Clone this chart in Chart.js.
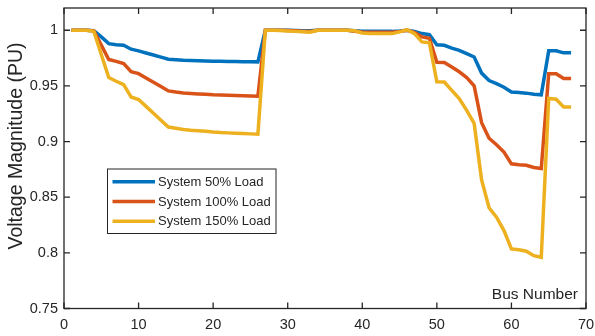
<!DOCTYPE html>
<html>
<head>
<meta charset="utf-8">
<script src="https://cdn.jsdelivr.net/npm/chart.js@4.4.1/dist/chart.umd.min.js"></script>
<style>
  html, body { margin: 0; padding: 0; background: #ffffff; }
  #wrap { width: 595px; height: 336px; }
</style>
</head>
<body>
<div id="wrap"><canvas id="c" width="595" height="336"></canvas></div>
<script>
// Bus index along the feeder
const buses = [1,2,3,4,5,6,7,8,9,10,11,12,13,14,15,16,17,18,19,20,21,22,23,24,25,26,27,28,29,30,31,32,33,34,
  35,36,37,38,39,40,41,42,43,44,45,46,47,48,49,50,51,52,53,54,55,56,57,58,59,60,61,62,63,64,65,66,67,68];

// Voltage magnitude (p.u.) per bus for each loading level
const load50 = [1.0000,1.0000,1.0000,0.9995,0.9940,0.9880,0.9870,0.9865,0.9830,0.9815,0.9796,0.9778,0.9759,0.9740,
  0.9735,0.9730,0.9728,0.9726,0.9724,0.9722,0.9721,0.9720,0.9719,0.9718,0.9717,0.9716,
  1.0000,1.0000,1.0000,1.0000,0.9998,0.9996,0.9995,1.0000,1.0000,1.0000,1.0000,1.0000,0.9996,0.9992,
  0.9990,0.9990,0.9990,0.9990,0.9994,1.0000,0.9990,0.9970,0.9960,0.9870,0.9865,0.9840,0.9820,0.9790,
  0.9760,0.9615,0.9548,0.9520,0.9488,0.9445,0.9440,0.9435,0.9425,0.9420,0.9815,0.9815,0.9797,0.9797];

const load100 = [1.0000,1.0000,1.0000,0.9995,0.9866,0.9737,0.9720,0.9700,0.9627,0.9610,0.9571,0.9533,0.9494,0.9455,
  0.9445,0.9437,0.9432,0.9428,0.9424,0.9420,0.9418,0.9416,0.9414,0.9412,0.9410,0.9407,
  1.0000,1.0000,1.0000,0.9998,0.9995,0.9992,0.9990,1.0000,0.9999,0.9999,0.9999,0.9999,0.9992,0.9985,
  0.9982,0.9982,0.9982,0.9982,0.9990,1.0000,0.9982,0.9940,0.9928,0.9713,0.9710,0.9670,0.9627,0.9575,
  0.9500,0.9170,0.9030,0.8972,0.8906,0.8800,0.8792,0.8787,0.8767,0.8757,0.9610,0.9610,0.9566,0.9566];

const load150 = [1.0000,1.0000,1.0000,0.9990,0.9782,0.9575,0.9542,0.9512,0.9400,0.9378,0.9316,0.9254,0.9192,0.9130,
  0.9120,0.9109,0.9102,0.9097,0.9093,0.9086,0.9081,0.9078,0.9075,0.9072,0.9069,0.9066,
  1.0000,1.0000,0.9997,0.9994,0.9990,0.9986,0.9982,1.0000,0.9999,0.9999,0.9999,0.9999,0.9995,0.9975,
  0.9970,0.9970,0.9970,0.9970,0.9985,1.0005,0.9970,0.9895,0.9887,0.9537,0.9535,0.9460,0.9387,0.9280,
  0.9163,0.8655,0.8405,0.8320,0.8200,0.8035,0.8027,0.8015,0.7975,0.7960,0.9387,0.9380,0.9310,0.9310];

const seriesNames = ['System 50% Load', 'System 100% Load', 'System 150% Load'];
const seriesColors = ['#0072BD', '#D95319', '#EDB120'];

const xTicks = [0, 10, 20, 30, 40, 50, 60, 70];
const yTicks = [0.75, 0.8, 0.85, 0.9, 0.95, 1];
const yTickLabels = ['0.75', '0.8', '0.85', '0.9', '0.95', '1'];

const xTitle = 'Bus Number';
const yTitle = 'Voltage Magnitude (PU)';

const AXIS_COLOR = '#262626';
const FONT = '"Liberation Sans", Arial, Helvetica, sans-serif';

function toPoints(values) {
  return buses.map((b, i) => ({ x: b, y: values[i] }));
}

const allSeries = [load50, load100, load150];
const datasets = allSeries.map((vals, i) => ({
  label: seriesNames[i],
  data: toPoints(vals),
  borderColor: seriesColors[i],
  backgroundColor: seriesColors[i],
  borderWidth: 3.5,
  pointRadius: 0,
  tension: 0,
  fill: false,
  order: 2 - i   // later series drawn on top
}));

// Box around the plot with inward tick marks on all four sides, plus axis titles
const boxPlugin = {
  id: 'box',
  afterDatasetsDraw(chart) {
    const { ctx, chartArea: a, scales: { x, y } } = chart;
    const tl = 6;
    ctx.save();
    ctx.strokeStyle = AXIS_COLOR;
    ctx.lineWidth = 1.3;
    ctx.beginPath();
    xTicks.forEach(v => {
      const px = x.getPixelForValue(v);
      ctx.moveTo(px, a.bottom); ctx.lineTo(px, a.bottom - tl);
      ctx.moveTo(px, a.top); ctx.lineTo(px, a.top + tl);
    });
    yTicks.forEach(v => {
      const py = y.getPixelForValue(v);
      ctx.moveTo(a.left, py); ctx.lineTo(a.left + tl, py);
      ctx.moveTo(a.right, py); ctx.lineTo(a.right - tl, py);
    });
    ctx.stroke();
    ctx.strokeRect(a.left, a.top, a.right - a.left, a.bottom - a.top);

    ctx.fillStyle = AXIS_COLOR;
    // x-axis label sits inside the plot, lower right
    ctx.font = '15.5px ' + FONT;
    ctx.textAlign = 'right';
    ctx.textBaseline = 'middle';
    ctx.fillText(xTitle, a.right - 8, a.bottom - 14);

    // rotated y-axis label
    ctx.translate(17, 146);
    ctx.rotate(-Math.PI / 2);
    ctx.font = '19.5px ' + FONT;
    ctx.textAlign = 'center';
    ctx.textBaseline = 'middle';
    ctx.fillText(yTitle, 0, 0);
    ctx.restore();
  }
};

// Legend box placed inside the plot area
const legendPlugin = {
  id: 'insideLegend',
  afterDatasetsDraw(chart) {
    const { ctx } = chart;
    const bx = 107.5, by = 169, bw = 168.5, bh = 64.5;
    ctx.save();
    ctx.fillStyle = '#ffffff';
    ctx.fillRect(bx, by, bw, bh);
    ctx.strokeStyle = AXIS_COLOR;
    ctx.lineWidth = 1;
    ctx.strokeRect(bx, by, bw, bh);
    const rows = [181.7, 201.5, 221.2];
    chart.data.datasets.forEach((ds, i) => {
      const ry = rows[i];
      ctx.strokeStyle = ds.borderColor;
      ctx.lineWidth = 3.5;
      ctx.beginPath();
      ctx.moveTo(112.5, ry); ctx.lineTo(155, ry);
      ctx.stroke();
      ctx.fillStyle = AXIS_COLOR;
      ctx.font = '13px ' + FONT;
      ctx.textAlign = 'left';
      ctx.textBaseline = 'middle';
      ctx.fillText(ds.label, 158, ry + 0.5);
    });
    ctx.restore();
  }
};

new Chart(document.getElementById('c'), {
  type: 'line',
  data: { datasets },
  options: {
    responsive: false,
    animation: false,
    devicePixelRatio: 1,
    layout: { padding: { top: 8, right: 9, left: 0, bottom: 0 } },
    plugins: { legend: { display: false }, tooltip: { enabled: false } },
    scales: {
      x: {
        type: 'linear',
        min: 0, max: 70,
        afterBuildTicks(s) { s.ticks = xTicks.map(v => ({ value: v })); },
        afterFit(s) { s.height = 27.5; s.paddingLeft = 0; s.paddingRight = 0; },
        grid: { display: false, drawTicks: false },
        border: { display: false },
        ticks: {
          color: AXIS_COLOR,
          font: { family: FONT, size: 14.5 },
          padding: 8,
          maxRotation: 0,
          callback: v => String(v)
        }
      },
      y: {
        type: 'linear',
        min: 0.75, max: 1.02,
        afterBuildTicks(s) { s.ticks = yTicks.map(v => ({ value: v })); },
        afterFit(s) { s.width = 64; s.paddingTop = 0; s.paddingBottom = 0; },
        grid: { display: false, drawTicks: false },
        border: { display: false },
        ticks: {
          color: AXIS_COLOR,
          font: { family: FONT, size: 14.5 },
          padding: 6,
          callback: (v) => {
            const k = yTicks.findIndex(t => Math.abs(t - v) < 1e-9);
            return k >= 0 ? yTickLabels[k] : '';
          }
        }
      }
    }
  },
  plugins: [boxPlugin, legendPlugin]
});
</script>
</body>
</html>
